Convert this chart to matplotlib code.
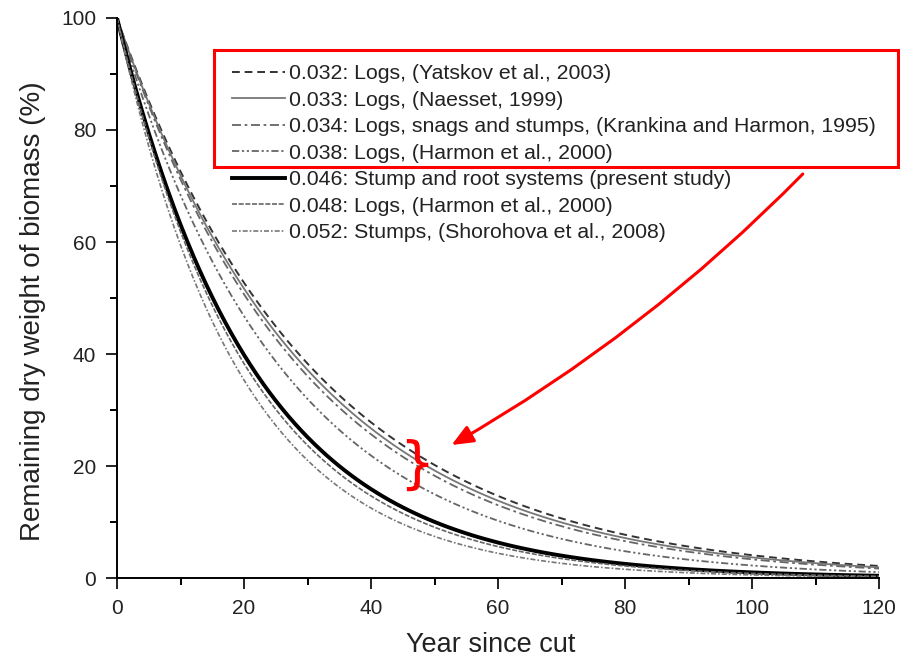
import numpy as np
import matplotlib
matplotlib.use("Agg")
import matplotlib.pyplot as plt
from matplotlib.patches import Rectangle

plt.rcParams['font.family'] = ['Liberation Sans', 'DejaVu Sans']

# Decay rates (per year) and legend labels
rates = [0.032, 0.033, 0.034, 0.038, 0.046, 0.048, 0.052]
labels = [
    "0.032: Logs, (Yatskov et al., 2003)",
    "0.033: Logs, (Naesset, 1999)",
    "0.034: Logs, snags and stumps, (Krankina and Harmon, 1995)",
    "0.038: Logs, (Harmon et al., 2000)",
    "0.046: Stump and root systems (present study)",
    "0.048: Logs, (Harmon et al., 2000)",
    "0.052: Stumps, (Shorohova et al., 2008)",
]
initial_biomass = 100.0
years = np.arange(0, 121, 1)

styles = [
    dict(color="#333333", lw=1.4, ls=(0, (4, 2.5))),
    dict(color="#777777", lw=1.3, ls="-"),
    dict(color="#666666", lw=1.3, ls=(0, (5, 2, 1.5, 2))),
    dict(color="#666666", lw=1.3, ls=(0, (4, 1.5, 1.2, 1.5, 1.2, 1.5))),
    dict(color="#000000", lw=2.8, ls="-"),
    dict(color="#666666", lw=1.2, ls=(0, (3, 1))),
    dict(color="#777777", lw=1.2, ls=(0, (3, 1.2, 1, 1.2))),
]

fig = plt.figure(figsize=(9, 6.64), dpi=100)
ax = fig.add_axes([0.13, 0.1295, 0.8467, 0.8434])

for k, lab, st in zip(rates, labels, styles):
    ax.plot(years, initial_biomass * np.exp(-k * years), label=lab, **st)

ax.set_xlim(0, 120)
ax.set_ylim(0, 100)
ax.set_xticks([0, 20, 40, 60, 80, 100, 120])
ax.set_xticks(np.arange(10, 120, 20), minor=True)
ax.set_yticks([0, 20, 40, 60, 80, 100])
ax.set_yticks(np.arange(10, 100, 20), minor=True)
for s in ["top", "right"]:
    ax.spines[s].set_visible(False)
for s in ["left", "bottom"]:
    ax.spines[s].set_linewidth(1.4)
ax.tick_params(which="major", length=8, width=1.4, labelsize=15, colors="#222222", pad=7)
ax.tick_params(which="minor", length=5, width=1.4)
ax.set_xlabel("Year since cut", fontsize=19.5, color="#222222")
ax.xaxis.set_label_coords(0.49, -0.097)
ax.set_ylabel("Remaining dry weight of biomass (%)", fontsize=20, color="#222222")
ax.yaxis.set_label_coords(-0.093, 0.477)

leg = ax.legend(loc="upper left", bbox_to_anchor=(0.151, 0.917), frameon=False,
                fontsize=15.3, handlelength=2.5, handletextpad=0.2,
                labelspacing=0.35, borderaxespad=0, borderpad=0)
for t in leg.get_texts():
    t.set_color("#222222")

# red box around first four legend entries
fig.patches.append(Rectangle((214 / 900, 1 - 167 / 664), 684 / 900, 117 / 664,
                             transform=fig.transFigure, fill=False,
                             edgecolor="red", lw=2.2, zorder=10))

# red arrow
ax.annotate("", xy=(52.3, 23.5), xytext=(108.3, 72.5),
            arrowprops=dict(arrowstyle="-|>,head_length=1.3,head_width=0.55",
                            color="red", lw=2.2,
                            connectionstyle="arc3,rad=-0.07"))

# red brace
ax.text(47.2, 20.0, "}", color="red", fontsize=40, ha="center", va="center",
        family="DejaVu Sans")

fig.savefig("out.png", dpi=100)
